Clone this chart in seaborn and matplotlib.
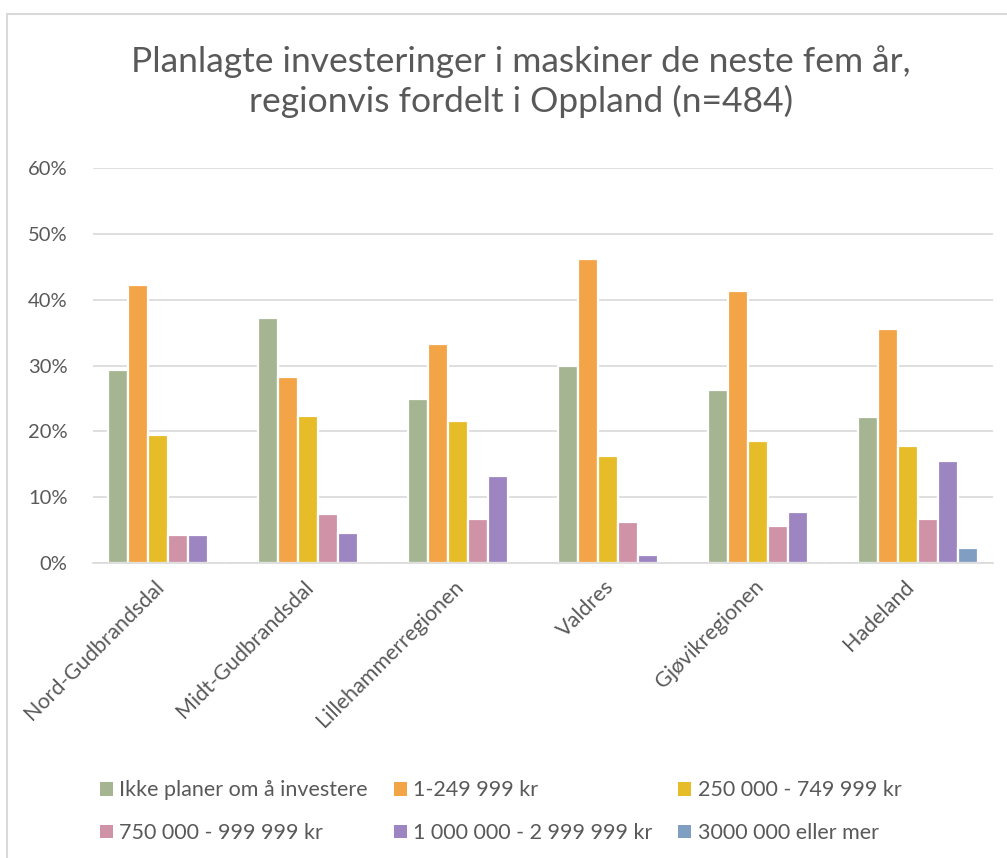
import numpy as np
import pandas as pd
import matplotlib
matplotlib.use("Agg")
import matplotlib.pyplot as plt
import seaborn as sns
from matplotlib.lines import Line2D
from matplotlib.patches import Patch

# -----------------------------
# Data
# -----------------------------
REGIONS = ["Nord-Gudbrandsdal", "Midt-Gudbrandsdal", "Lillehammerregionen",
           "Valdres", "Gjøvikregionen", "Hadeland"]
SERIES = ["Ikke planer om å investere", "1-249 999 kr", "250 000 - 749 999 kr",
          "750 000 - 999 999 kr", "1 000 000 - 2 999 999 kr", "3000 000 eller mer"]

ikke_planer = [29.3, 37.2, 24.9, 29.9, 26.3, 22.2]
kr_1_249 = [42.3, 28.3, 33.3, 46.2, 41.4, 35.5]
kr_250_749 = [19.5, 22.3, 21.6, 16.2, 18.5, 17.7]
kr_750_999 = [4.3, 7.4, 6.7, 6.2, 5.6, 6.7]
kr_1m_3m = [4.3, 4.5, 13.2, 1.2, 7.8, 15.5]
kr_3m_plus = [0.0, 0.0, 0.0, 0.0, 0.0, 2.2]

COLORS = ["#A5B592", "#F3A447", "#E7BC29", "#D092A7", "#9C85C0", "#809EC2"]
TEXT_GREY = "#595959"
GRID_GREY = "#D9D9D9"

values = [ikke_planer, kr_1_249, kr_250_749, kr_750_999, kr_1m_3m, kr_3m_plus]
df = pd.DataFrame(
    [(r, s, v) for s, vals in zip(SERIES, values) for r, v in zip(REGIONS, vals)],
    columns=["Region", "Serie", "Prosent"],
)

# -----------------------------
# Plot
# -----------------------------
sns.set_theme(style="white")
plt.rcParams["font.family"] = ["Lato", "DejaVu Sans"]

fig = plt.figure(figsize=(10.07, 8.58), dpi=100)
ax = fig.add_axes([0.092, 0.344, 0.894, 0.460])

sns.barplot(
    data=df, x="Region", y="Prosent", hue="Serie",
    order=REGIONS, hue_order=SERIES, palette=COLORS,
    width=0.8, edgecolor="white", linewidth=1.6, saturation=1,
    legend=False, ax=ax,
)

ax.set_ylim(0, 60)
ax.set_xlim(-0.5, len(REGIONS) - 0.5)
ax.set_yticks(np.arange(0, 61, 10))
ax.set_yticklabels([f"{t}%" for t in range(0, 61, 10)], fontsize=14.5, color=TEXT_GREY)
ax.set_xticks(range(len(REGIONS)))
ax.set_xticklabels(REGIONS, rotation=45, ha="right", va="top",
                   fontsize=15.5, color=TEXT_GREY)
ax.tick_params(axis="y", length=0, pad=18)
ax.tick_params(axis="x", length=0, pad=10)
ax.set_xlabel("")
ax.set_ylabel("")
ax.yaxis.grid(True, color=GRID_GREY, linewidth=1.2)
ax.set_axisbelow(True)
for side in ["top", "right", "left"]:
    ax.spines[side].set_visible(False)
ax.spines["bottom"].set_color(GRID_GREY)
ax.spines["bottom"].set_linewidth(1.2)

fig.text(0.517, 0.905, "Planlagte investeringer i maskiner de neste fem år,\nregionvis fordelt i Oppland (n=484)",
         ha="center", va="center", fontsize=25.5, color=TEXT_GREY, linespacing=1.25)

# legend filled row by row, like the original
order = [0, 3, 1, 4, 2, 5]
handles = [Patch(facecolor=COLORS[i], edgecolor="none") for i in order]
labels = [SERIES[i] for i in order]
fig.legend(handles, labels, loc="upper left", bbox_to_anchor=(0.08, 0.113),
           ncol=3, frameon=False, fontsize=15.5, labelcolor=TEXT_GREY,
           handlelength=0.6, handleheight=0.6, handletextpad=0.3,
           columnspacing=1.2, labelspacing=1.05)

# chart border (top and left edges visible)
fig.add_artist(Line2D([7 / 1007, 1.0], [1 - 14 / 858, 1 - 14 / 858],
                      transform=fig.transFigure, color=GRID_GREY, linewidth=1.5))
fig.add_artist(Line2D([7 / 1007, 7 / 1007], [0.0, 1 - 14 / 858],
                      transform=fig.transFigure, color=GRID_GREY, linewidth=1.5))

fig.savefig("out.png", dpi=100)
